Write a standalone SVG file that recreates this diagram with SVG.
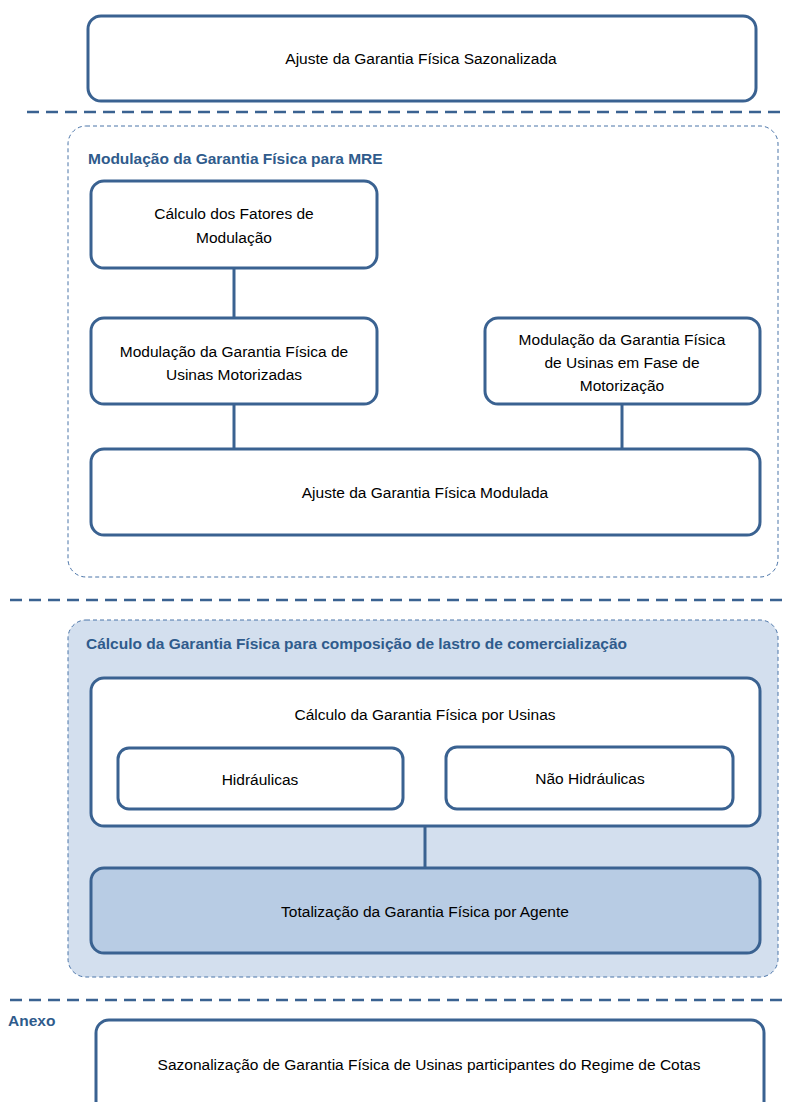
<svg xmlns="http://www.w3.org/2000/svg" width="786" height="1102" viewBox="0 0 786 1102">
<style>
.box{fill:#ffffff;stroke:#3a6291;stroke-width:3}
.grp{stroke:#4a74a8;stroke-width:1;stroke-dasharray:4 3}
.sep{stroke:#3a6291;stroke-width:2.5;stroke-dasharray:12 7;fill:none}
.conn{stroke:#3a6291;stroke-width:3;fill:none}
.t{font-family:"Liberation Sans",Arial,sans-serif;font-size:15.5px;fill:#000;text-anchor:middle}
.h{font-family:"Liberation Sans",Arial,sans-serif;font-size:15.5px;font-weight:bold;fill:#2f5b8c}
</style>
<rect width="786" height="1102" fill="#ffffff"/>
<g id="separators">
<line class="sep" x1="27" y1="112" x2="786" y2="112"/>
<line class="sep" x1="10" y1="600" x2="786" y2="600"/>
<line class="sep" x1="10" y1="1000" x2="786" y2="1000"/>
</g>
<g id="n-ajuste-sazonalizada">
<rect class="box" x="88" y="16" width="668" height="85" rx="13"/>
<text class="t" x="421" y="64">Ajuste da Garantia Física Sazonalizada</text>
</g>
<g id="grp-mre">
<rect class="grp" x="68" y="126" width="710" height="451" rx="18" fill="none"/>
<text class="h" x="88" y="164">Modulação da Garantia Física para MRE</text>
</g>
<g id="grp-lastro">
<rect class="grp" x="68" y="620" width="710" height="357" rx="18" fill="#d3dfee"/>
<text class="h" x="86" y="649">Cálculo da Garantia Física para composição de lastro de comercialização</text>
</g>
<g id="connectors">
<line class="conn" x1="234" y1="268" x2="234" y2="318"/>
<line class="conn" x1="234" y1="404" x2="234" y2="449"/>
<line class="conn" x1="622" y1="404" x2="622" y2="449"/>
<line class="conn" x1="425" y1="826" x2="425" y2="868"/>
</g>
<g id="n-calculo-fatores">
<rect class="box" x="91" y="181" width="286" height="87" rx="13"/>
<text class="t" x="234" y="219">Cálculo dos Fatores de</text>
<text class="t" x="234" y="243">Modulação</text>
</g>
<g id="n-modulacao-motorizadas">
<rect class="box" x="91" y="318" width="286" height="86" rx="13"/>
<text class="t" x="234" y="357">Modulação da Garantia Física de</text>
<text class="t" x="234" y="380">Usinas Motorizadas</text>
</g>
<g id="n-modulacao-fase">
<rect class="box" x="485" y="318" width="275" height="86" rx="13"/>
<text class="t" x="622" y="345">Modulação da Garantia Física</text>
<text class="t" x="622" y="368">de Usinas em Fase de</text>
<text class="t" x="622" y="391">Motorização</text>
</g>
<g id="n-ajuste-modulada">
<rect class="box" x="91" y="449" width="669" height="86" rx="13"/>
<text class="t" x="425" y="498">Ajuste da Garantia Física Modulada</text>
</g>
<g id="n-calculo-usinas">
<rect class="box" x="91" y="678" width="669" height="148" rx="13"/>
<text class="t" x="425" y="720">Cálculo da Garantia Física por Usinas</text>
</g>
<g id="n-hidraulicas">
<rect class="box" x="118" y="748" width="285" height="61" rx="11"/>
<text class="t" x="260" y="785">Hidráulicas</text>
</g>
<g id="n-nao-hidraulicas">
<rect class="box" x="446" y="747" width="287" height="62" rx="11"/>
<text class="t" x="590" y="784">Não Hidráulicas</text>
</g>
<g id="n-totalizacao">
<rect class="box" x="91" y="868" width="669" height="85" rx="13" style="fill:#b8cce4"/>
<text class="t" x="425" y="917">Totalização da Garantia Física por Agente</text>
</g>
<g id="anexo">
<text class="h" x="8" y="1026">Anexo</text>
</g>
<g id="n-sazonalizacao-cotas">
<rect class="box" x="96" y="1020" width="668" height="100" rx="13"/>
<text class="t" x="429" y="1070">Sazonalização de Garantia Física de Usinas participantes do Regime de Cotas</text>
</g>
</svg>
